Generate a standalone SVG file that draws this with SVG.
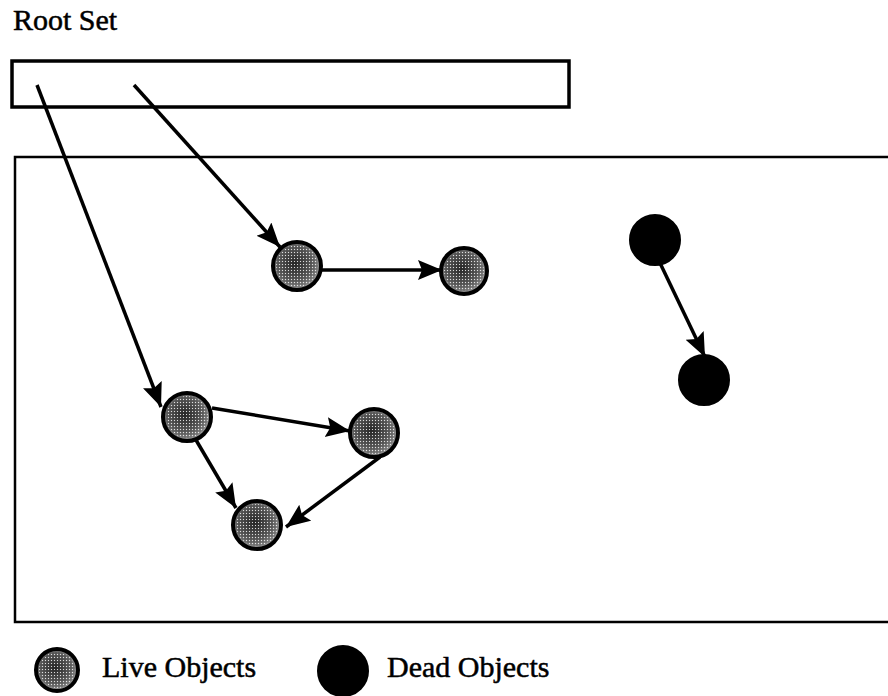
<svg xmlns="http://www.w3.org/2000/svg" width="888" height="696" viewBox="0 0 888 696">
  <style>
    .label { font-family: "Liberation Serif", "Times New Roman", serif; font-size: 30px; fill: #000; stroke: #000; stroke-width: 0.5; }
    .frame { fill: none; stroke: #000; }
    .edge { stroke: #000; stroke-width: 3.5; fill: none; marker-end: url(#arrow); }
    .live { fill: url(#liveFill); stroke: #000; stroke-width: 4; }
    .speck { fill: url(#stipple); stroke: none; }
    .dead { fill: #000; stroke: #000; stroke-width: 2; }
  </style>
  <defs>
    <marker id="arrow" markerUnits="userSpaceOnUse" markerWidth="26" markerHeight="22" refX="24" refY="10" orient="auto">
      <path d="M0,0 L24,10 L0,20 L4,10 Z" fill="#000"/>
    </marker>
    <radialGradient id="liveFill" cx="0.45" cy="0.45" r="0.6">
      <stop offset="0" stop-color="#2a2a2a"/>
      <stop offset="0.6" stop-color="#626262"/>
      <stop offset="1" stop-color="#aaa"/>
    </radialGradient>
    <pattern id="stipple" width="3" height="3" patternUnits="userSpaceOnUse">
      <rect x="0" y="0" width="1" height="1" fill="#fff" opacity="0.8"/>
      <rect x="1.5" y="1.5" width="1" height="1" fill="#000" opacity="0.5"/>
    </pattern>
  </defs>

  <text class="label" x="13" y="30">Root Set</text>

  <!-- root set box and heap -->
  <rect id="root-set" class="frame" x="12" y="61" width="557" height="46" stroke-width="3.5"/>
  <path id="heap" class="frame" d="M888,157 L15,157 L15,622 L888,622" stroke-width="2.5"/>

  <g id="connectors">
    <line class="edge" x1="37" y1="85" x2="161" y2="407"/>
    <line class="edge" x1="134" y1="85" x2="280" y2="247"/>
    <line class="edge" x1="321" y1="270" x2="442" y2="270"/>
    <line class="edge" x1="212" y1="408" x2="350" y2="431"/>
    <line class="edge" x1="196" y1="440" x2="236" y2="508"/>
    <line class="edge" x1="380" y1="457" x2="286" y2="527"/>
    <line class="edge" x1="660" y1="263" x2="705" y2="357"/>
  </g>

  <g id="live-a"><circle class="live" cx="297" cy="266" r="24"/><circle class="speck" cx="297" cy="266" r="21"/></g>
  <g id="live-b"><circle class="live" cx="464" cy="271" r="23"/><circle class="speck" cx="464" cy="271" r="20"/></g>
  <g id="live-c"><circle class="live" cx="187" cy="417" r="24"/><circle class="speck" cx="187" cy="417" r="21"/></g>
  <g id="live-d"><circle class="live" cx="374" cy="433" r="24"/><circle class="speck" cx="374" cy="433" r="21"/></g>
  <g id="live-e"><circle class="live" cx="257" cy="525" r="24"/><circle class="speck" cx="257" cy="525" r="21"/></g>
  <g id="dead-f"><circle class="dead" cx="655" cy="240" r="25"/></g>
  <g id="dead-g"><circle class="dead" cx="704" cy="380" r="25"/></g>

  <g id="legend-live">
    <circle class="live" cx="57" cy="670" r="21"/><circle class="speck" cx="57" cy="670" r="18"/>
    <text class="label" x="102" y="677">Live Objects</text>
  </g>
  <g id="legend-dead">
    <circle class="dead" cx="343" cy="671" r="25"/>
    <text class="label" x="387" y="677">Dead Objects</text>
  </g>
</svg>
